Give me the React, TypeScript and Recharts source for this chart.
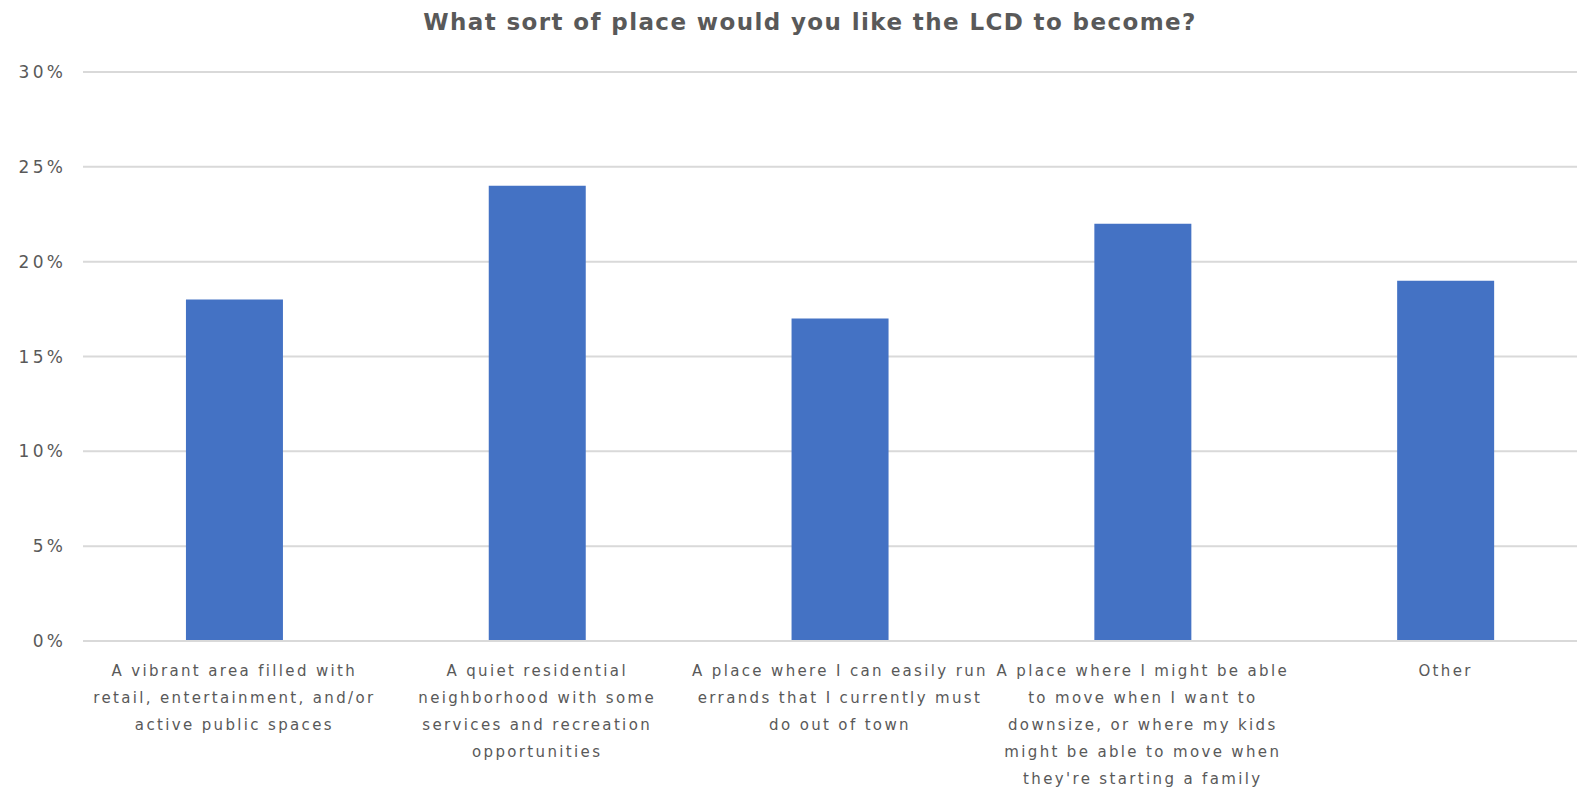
import React from "react";
import { BarChart, Bar, XAxis, YAxis, CartesianGrid } from "recharts";

const categories = ["vibrant", "quiet", "errands", "downsize", "other"];
const values = [0.18, 0.24, 0.17, 0.22, 0.19];
const tickLabels: string[][] = [
  ["A vibrant area filled with", "retail, entertainment, and/or", "active public spaces"],
  ["A quiet residential", "neighborhood with some", "services and recreation", "opportunities"],
  ["A place where I can easily run", "errands that I currently must", "do out of town"],
  ["A place where I might be able", "to move when I want to", "downsize, or where my kids", "might be able to move when", "they're starting a family"],
  ["Other"],
];
const yTicks = [0, 0.05, 0.1, 0.15, 0.2, 0.25, 0.3];
const title = "What sort of place would you like the LCD to become?";

const data = categories.map((c, i) => ({ key: c, value: values[i] }));

const FONT = "'DejaVu Sans', sans-serif";
const TEXT = "#595959";

const XTick = (props: any) => {
  const { x, y, payload } = props;
  const idx = categories.indexOf(payload.value);
  const lines = tickLabels[idx] || [];
  return (
    <text x={x} y={y} textAnchor="middle" fill={TEXT} fontFamily={FONT} fontSize={15} letterSpacing={2.35}>
      {lines.map((l, i) => (
        <tspan key={i} x={x} y={y + 27 + i * 27}>
          {l}
        </tspan>
      ))}
    </text>
  );
};

export default function App() {
  return (
    <div style={{ position: "absolute", left: 0, top: 0, width: 1577, height: 791, background: "#fff", overflow: "hidden" }}>
      <div
        style={{
          position: "absolute",
          left: 0,
          width: 1620,
          top: 9,
          textAlign: "center",
          fontFamily: FONT,
          fontWeight: "bold",
          fontSize: 23,
          color: TEXT,
          letterSpacing: 1.4,
        }}
      >
        {title}
      </div>
      <BarChart
        width={1597}
        height={791}
        data={data}
        margin={{ top: 72, right: 0, bottom: 120, left: 0 }}
        barCategoryGap="34%"
      >
        <CartesianGrid vertical={false} stroke="#D9D9D9" strokeWidth={2} />
        <XAxis
          dataKey="key"
          axisLine={{ stroke: "#D9D9D9", strokeWidth: 2 }}
          tickLine={false}
          interval={0}
          tick={<XTick />}
        />
        <YAxis
          width={83}
          domain={[0, 0.3]}
          ticks={yTicks}
          axisLine={false}
          tickLine={false}
          tickSize={0}
          tickMargin={17}
          tickFormatter={(v: number) => `${Math.round(v * 100)}%`}
          tick={{ fill: TEXT, fontFamily: FONT, fontSize: 17, letterSpacing: 3.2 }}
        />
        <Bar dataKey="value" fill="#4472C4" isAnimationActive={false} />
      </BarChart>
    </div>
  );
}
